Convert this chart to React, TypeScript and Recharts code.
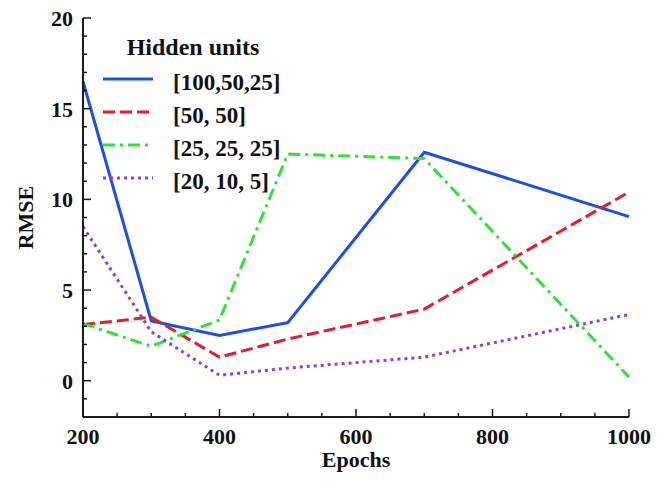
import React from 'react';
import { LineChart, Line, XAxis, YAxis, Legend } from 'recharts';

const epochs = [200, 300, 400, 500, 700, 1000];
const rmse100_50_25 = [16.5, 3.3, 2.5, 3.2, 12.6, 9.05];
const rmse50_50 = [3.1, 3.5, 1.3, 2.3, 3.95, 10.4];
const rmse25_25_25 = [3.15, 1.9, 3.35, 12.5, 12.25, 0.2];
const rmse20_10_5 = [8.5, 2.7, 0.3, 0.7, 1.3, 3.65];

const seriesNames = ['[100,50,25]', '[50, 50]', '[25, 25, 25]', '[20, 10, 5]'];
const legendTitle = 'Hidden units';

const xTicks = [200, 250, 300, 350, 400, 450, 500, 550, 600, 650, 700, 750, 800, 850, 900, 950, 1000];
const yTicks = [-2, -1, 0, 1, 2, 3, 4, 5, 6, 7, 8, 9, 10, 11, 12, 13, 14, 15, 16, 17, 18, 19, 20];
const xLabelTicks = [200, 400, 600, 800, 1000];
const yLabelTicks = [0, 5, 10, 15, 20];

const data = epochs.map((e, i) => ({
  epoch: e,
  s1: rmse100_50_25[i],
  s2: rmse50_50[i],
  s3: rmse25_25_25[i],
  s4: rmse20_10_5[i],
}));

const FONT = '"Liberation Serif", "Times New Roman", serif';
const AXIS = '#1a1a1a';

const seriesStyle = [
  { key: 's1', color: '#1c4fe6', dash: undefined },
  { key: 's2', color: '#e31e2a', dash: '12 5' },
  { key: 's3', color: '#33e03a', dash: '12 5 3 5' },
  { key: 's4', color: '#8c3fe3', dash: '3 4' },
];

const XTickBottom = (props: any) => {
  const { x, y, payload } = props;
  const major = xLabelTicks.includes(payload.value);
  return (
    <g>
      <line x1={x} x2={x} y1={y} y2={y - (major ? 8 : 4)} stroke={AXIS} strokeWidth={1.5} />
      {major && (
        <text x={x} y={y + 27} textAnchor="middle" fontFamily={FONT} fontWeight="bold" fontSize={22} fill="#111">
          {payload.value}
        </text>
      )}
    </g>
  );
};

const XTickTop = (props: any) => {
  const { x, y, payload } = props;
  const major = xLabelTicks.includes(payload.value);
  return <line x1={x} x2={x} y1={y} y2={y + (major ? 8 : 4)} stroke={AXIS} strokeWidth={1.5} />;
};

const YTickLeft = (props: any) => {
  const { x, y, payload } = props;
  const major = yLabelTicks.includes(payload.value);
  return (
    <g>
      <line x1={x} x2={x + (major ? 8 : 4)} y1={y} y2={y} stroke={AXIS} strokeWidth={1.5} />
      {major && (
        <text x={x - 10} y={y + 8} textAnchor="end" fontFamily={FONT} fontWeight="bold" fontSize={22} fill="#111">
          {payload.value}
        </text>
      )}
    </g>
  );
};

const YTickRight = (props: any) => {
  const { x, y, payload } = props;
  const major = yLabelTicks.includes(payload.value);
  return <line x1={x} x2={x - (major ? 8 : 4)} y1={y} y2={y} stroke={AXIS} strokeWidth={1.5} />;
};

const renderLegend = () => (
  <svg width={220} height={165} style={{ display: 'block' }}>
    <text x={98} y={25} textAnchor="middle" fontFamily={FONT} fontWeight="bold" fontSize={24} fill="#111">
      {legendTitle}
    </text>
    {seriesStyle.map((s, i) => (
      <g key={s.key}>
        <line x1={8} x2={58} y1={49 + i * 33} y2={49 + i * 33} stroke={s.color} strokeWidth={3} strokeDasharray={s.dash} />
        <text x={78} y={60 + i * 33} fontFamily={FONT} fontWeight="bold" fontSize={23} fill="#111">
          {seriesNames[i]}
        </text>
      </g>
    ))}
  </svg>
);

export default function App() {
  return (
    <div style={{ position: 'absolute', left: 0, top: 0, width: 664, height: 481, background: '#fff' }}>
      <LineChart width={664} height={481} data={data} margin={{ top: 18, right: 35, left: 0, bottom: 0 }}>
        <XAxis
          dataKey="epoch"
          type="number"
          domain={[200, 1000]}
          ticks={xTicks}
          interval={0}
          height={64}
          tickSize={0}
          tickMargin={0}
          tick={<XTickBottom />}
          axisLine={{ stroke: AXIS, strokeWidth: 2 }}
          tickLine={false}
          label={{ value: 'Epochs', position: 'insideBottom', offset: 14, style: { fontFamily: FONT, fontWeight: 'bold', fontSize: 22, fill: '#111' } }}
        />
        <XAxis
          xAxisId="top"
          orientation="top"
          dataKey="epoch"
          type="number"
          domain={[200, 1000]}
          ticks={xTicks}
          interval={0}
          height={0}
          tickSize={0}
          tickMargin={0}
          tick={<XTickTop />}
          axisLine={{ stroke: AXIS, strokeWidth: 2 }}
          tickLine={false}
        />
        <YAxis
          type="number"
          domain={[-2, 20]}
          ticks={yTicks}
          interval={0}
          width={83}
          tickSize={0}
          tickMargin={0}
          tick={<YTickLeft />}
          axisLine={{ stroke: AXIS, strokeWidth: 2 }}
          tickLine={false}
          allowDataOverflow
          label={{ value: 'RMSE', angle: -90, position: 'insideLeft', offset: 25, style: { textAnchor: 'middle', fontFamily: FONT, fontWeight: 'bold', fontSize: 22, fill: '#111' } }}
        />
        <YAxis
          yAxisId="right"
          orientation="right"
          type="number"
          domain={[-2, 20]}
          ticks={yTicks}
          interval={0}
          width={0}
          tickSize={0}
          tickMargin={0}
          tick={<YTickRight />}
          axisLine={{ stroke: AXIS, strokeWidth: 2 }}
          tickLine={false}
        />
        <Legend
          layout="horizontal"
          verticalAlign="middle"
          align="center"
          content={renderLegend}
          wrapperStyle={{ position: 'absolute', left: 95, top: 30, width: 220, height: 165 }}
        />
        {seriesStyle.map((s, i) => (
          <Line
            key={s.key}
            type="linear"
            dataKey={s.key}
            name={seriesNames[i]}
            stroke={s.color}
            strokeWidth={3}
            strokeDasharray={s.dash}
            dot={false}
            activeDot={false}
            isAnimationActive={false}
          />
        ))}
      </LineChart>
    </div>
  );
}
